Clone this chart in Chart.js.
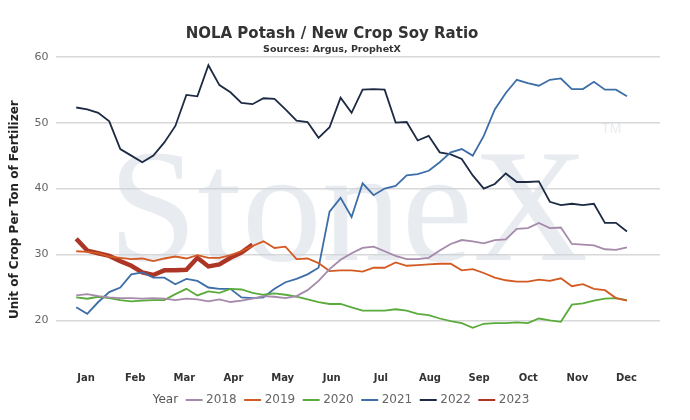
<!DOCTYPE html>
<html>
<head>
<meta charset="utf-8">
<script src="https://cdn.jsdelivr.net/npm/chart.js@4"></script>
<style>
  body { margin: 0; background: #fff; }
  #wrap { width: 690px; height: 420px; }
</style>
</head>
<body>
<div id="wrap"><canvas id="chart"></canvas></div>
<script>
// weekly ratios, week 1 = early January
const years = ['2018', '2019', '2020', '2021', '2022', '2023'];
const colors = ['#a58aab', '#d35a22', '#5aab3c', '#3d6ea8', '#1c2a44', '#ad3525'];
const months = ['Jan', 'Feb', 'Mar', 'Apr', 'May', 'Jun', 'Jul', 'Aug', 'Sep', 'Oct', 'Nov', 'Dec'];
const yTicks = [20, 30, 40, 50, 60];

const s2018 = [23.8, 24, 23.7, 23.5, 23.4, 23.4, 23.3, 23.4, 23.3, 23.1, 23.3, 23.2, 22.9, 23.2, 22.8, 23, 23.3, 23.7, 23.6, 23.4, 23.7, 24.6, 26, 27.8, 29.2, 30.2, 31, 31.2, 30.5, 29.8, 29.3, 29.3, 29.5, 30.6, 31.6, 32.2, 32, 31.7, 32.2, 32.3, 33.9, 34, 34.8, 34, 34.1, 31.6, 31.5, 31.4, 30.8, 30.7, 31.1];
const s2019 = [30.5, 30.4, 30.2, 29.7, 29.5, 29.3, 29.4, 29, 29.4, 29.7, 29.4, 29.9, 29.5, 29.5, 29.9, 30.5, 31.3, 32, 31, 31.2, 29.3, 29.4, 28.7, 27.5, 27.6, 27.6, 27.4, 28, 28, 28.8, 28.3, 28.4, 28.5, 28.6, 28.6, 27.6, 27.8, 27.2, 26.5, 26.1, 25.9, 25.9, 26.2, 26, 26.4, 25.2, 25.5, 24.8, 24.6, 23.4, 23];
const s2020 = [23.5, 23.3, 23.6, 23.4, 23.1, 22.9, 23, 23.1, 23.1, 24, 24.8, 23.8, 24.4, 24.2, 24.8, 24.7, 24.2, 23.9, 24.1, 23.9, 23.6, 23.2, 22.8, 22.5, 22.5, 22, 21.5, 21.5, 21.5, 21.7, 21.5, 21, 20.8, 20.3, 19.9, 19.6, 18.9, 19.5, 19.6, 19.6, 19.7, 19.6, 20.3, 20, 19.8, 22.4, 22.6, 23, 23.3, 23.4, 23.1];
const s2021 = [22, 21, 22.8, 24.3, 25, 27, 27.3, 26.5, 26.5, 25.5, 26.3, 26, 25, 24.8, 24.8, 23.5, 23.4, 23.5, 24.8, 25.8, 26.3, 27, 28, 36.5, 38.6, 35.7, 40.8, 39, 40, 40.4, 42, 42.2, 42.7, 44, 45.5, 46, 45, 48, 52, 54.5, 56.5, 56, 55.6, 56.5, 56.7, 55.1, 55.1, 56.2, 55, 55, 54];
const s2022 = [52.3, 52, 51.5, 50.2, 46, 45, 44, 45, 47, 49.5, 54.2, 54, 58.7, 55.7, 54.6, 53, 52.8, 53.7, 53.6, 52, 50.3, 50.1, 47.7, 49.3, 53.8, 51.5, 55, 55.1, 55, 50, 50.1, 47.3, 48, 45.5, 45.2, 44.5, 42, 40, 40.7, 42.3, 41, 41, 41.1, 38, 37.5, 37.7, 37.5, 37.7, 34.8, 34.8, 33.5];
const s2023 = [32.4, 30.6, 30.2, 29.8, 29, 28.3, 27.3, 26.9, 27.6, 27.6, 27.7, 29.5, 28.2, 28.5, 29.5, 30.3, 31.5];

const series = [s2018, s2019, s2020, s2021, s2022, s2023];
const monthPos = months.map((m, i) => 1.9 + i * 4.46);

// big faint watermark behind the lines
const watermark = {
    id: 'watermark',
    beforeDatasetsDraw(chart) {
        const ctx = chart.ctx;
        const a = chart.chartArea;
        ctx.save();
        ctx.fillStyle = 'rgba(205, 212, 225, 0.45)';
        ctx.font = '160px "Liberation Serif", serif';
        ctx.textAlign = 'center';
        ctx.textBaseline = 'alphabetic';
        ctx.fillText('StoneX', (a.left + a.right) / 2 - 10, a.top + 205);
        ctx.font = '14px "Liberation Sans", sans-serif';
        ctx.fillText('TM', a.left + 555, a.top + 78);
        ctx.restore();
    }
};

const context = document.getElementById('chart').getContext('2d');
const chart = new Chart(context, {
    type: 'line',
    data: {
        datasets: years.map((y, i) => ({
            label: y,
            data: series[i].map((v, w) => ({ x: w + 1, y: v })),
            borderColor: colors[i],
            backgroundColor: colors[i],
            borderWidth: y === '2023' ? 4.5 : 1.8,
            pointRadius: 0,
            fill: false,
            tension: 0
        }))
    },
    options: {
        animation: false,
        responsive: true,
        maintainAspectRatio: false,
        layout: { padding: { left: 4, right: 30, top: 0, bottom: 4 } },
        plugins: {
            title: {
                display: true,
                text: 'NOLA Potash / New Crop Soy Ratio',
                color: '#333',
                font: { family: 'DejaVu Sans', size: 15, weight: 'bold' },
                padding: { top: 25, bottom: 1 }
            },
            subtitle: {
                display: true,
                text: 'Sources: Argus, ProphetX',
                color: '#333',
                font: { family: 'DejaVu Sans', size: 9.5, weight: 'bold' },
                padding: { bottom: 0 }
            },
            legend: {
                position: 'bottom',
                labels: {
                    usePointStyle: true,
                    pointStyle: 'line',
                    boxWidth: 24,
                    padding: 10,
                    color: '#666',
                    font: { family: 'DejaVu Sans', size: 12 },
                    generateLabels(chart) {
                        const items = Chart.defaults.plugins.legend.labels.generateLabels(chart);
                        items.forEach(it => { it.lineWidth = 2; });
                        return [{ text: 'Year', fillStyle: 'rgba(0,0,0,0)', strokeStyle: 'rgba(0,0,0,0)', lineWidth: 0, pointStyle: 'line', fontColor: '#555', datasetIndex: -1 }].concat(items);
                    }
                },
                onClick() {}
            },
            tooltip: { enabled: false }
        },
        scales: {
            x: {
                type: 'linear',
                min: -0.8,
                max: 54,
                afterBuildTicks(axis) { axis.ticks = monthPos.map(v => ({ value: v })); },
                ticks: {
                    autoSkip: false,
                    maxRotation: 0,
                    color: '#333',
                    padding: 0,
                    font: { family: 'DejaVu Sans', size: 10, weight: 'bold' },
                    callback: (v, i) => months[i]
                },
                grid: { display: false },
                border: { display: false }
            },
            y: {
                min: 13.4,
                max: 60.2,
                afterBuildTicks(axis) { axis.ticks = yTicks.map(v => ({ value: v })); },
                ticks: { color: '#666', font: { family: 'DejaVu Sans', size: 11 }, padding: 8 },
                grid: { color: '#d8d8d8', lineWidth: 1.5, drawTicks: false },
                border: { display: false },
                title: {
                    display: true,
                    text: 'Unit of Crop Per Ton of Fertilizer',
                    color: '#222',
                    font: { family: 'DejaVu Sans', size: 12, weight: 'bold' }
                }
            }
        }
    },
    plugins: [watermark]
});
</script>
</body>
</html>
